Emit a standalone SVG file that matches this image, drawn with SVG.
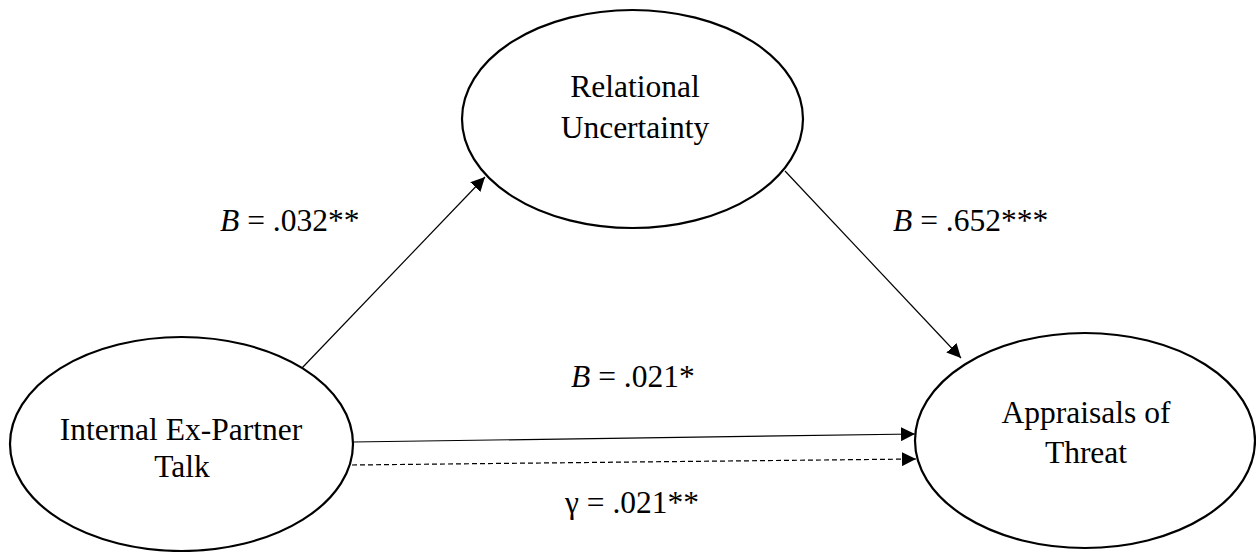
<svg xmlns="http://www.w3.org/2000/svg" width="1256" height="552" viewBox="0 0 1256 552">
  <defs>
    <marker id="arrow" viewBox="0 0 14 14" markerWidth="14" markerHeight="14" refX="14" refY="7" orient="auto" markerUnits="userSpaceOnUse">
      <path d="M0,0 L14,7 L0,14 Z" fill="#000"/>
    </marker>
    <style>
      .node { fill: #fff; stroke: #000; stroke-width: 2.2; }
      .label { font-family: "Liberation Serif", "Times New Roman", serif; font-size: 31.5px; fill: #000; }
      .mid { text-anchor: middle; }
      .conn { stroke: #000; stroke-width: 1.2; fill: none; marker-end: url(#arrow); }
      .dashed { stroke-dasharray: 5 3; }
    </style>
  </defs>
  <rect width="1256" height="552" fill="#fff"/>

  <g id="connectors">
    <line class="conn" x1="302" y1="368" x2="485" y2="177"/>
    <line class="conn" x1="785" y1="171" x2="961" y2="358"/>
    <line class="conn" x1="352" y1="442" x2="915" y2="434"/>
    <line class="conn dashed" x1="352" y1="465" x2="916" y2="459"/>
  </g>

  <g id="node-relational-uncertainty">
    <ellipse class="node" cx="632.5" cy="119" rx="170.5" ry="109"/>
    <text class="label mid" x="635" y="97">Relational</text>
    <text class="label mid" x="635" y="138">Uncertainty</text>
  </g>

  <g id="node-internal-talk">
    <ellipse class="node" cx="181.5" cy="444" rx="171.5" ry="107"/>
    <text class="label mid" x="181" y="440">Internal Ex-Partner</text>
    <text class="label mid" x="182" y="477">Talk</text>
  </g>

  <g id="node-appraisals-threat">
    <ellipse class="node" cx="1085" cy="440.5" rx="170" ry="107.5"/>
    <text class="label mid" x="1086" y="423">Appraisals of</text>
    <text class="label mid" x="1086" y="463">Threat</text>
  </g>

  <g id="labels">
    <text class="label" x="220" y="231"><tspan font-style="italic">B</tspan> = .032**</text>
    <text class="label" x="893" y="231"><tspan font-style="italic">B</tspan> = .652***</text>
    <text class="label" x="571" y="387"><tspan font-style="italic">B</tspan> = .021*</text>
    <text class="label" x="565" y="513">γ = .021**</text>
  </g>
</svg>
